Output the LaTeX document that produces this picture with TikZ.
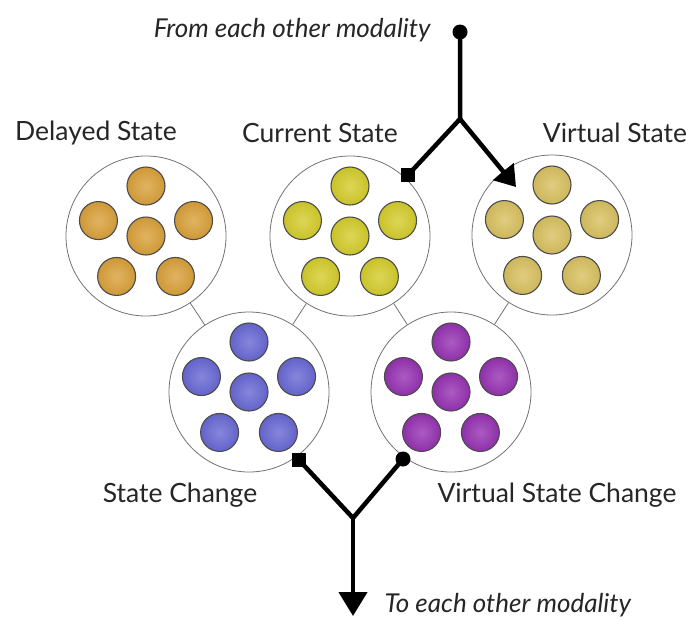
\documentclass[tikz,border=0pt]{standalone}
\usepackage{fontspec}
\setmainfont{Lato}
\usetikzlibrary{arrows.meta}
\definecolor{cdel}{HTML}{D9A03A}
\definecolor{ccur}{HTML}{D4CC2C}
\definecolor{cvir}{HTML}{D8C060}
\definecolor{cchg}{HTML}{6868D4}
\definecolor{cvch}{HTML}{9632B2}
\tikzset{
  big/.style={circle, draw=black!55, line width=0.8pt, minimum size=160pt, inner sep=0pt},
  ball/.style={circle, draw=black!70, line width=1.1pt, minimum size=38pt, inner sep=0pt,
    shading=radial, inner color=#1!80!white, outer color=#1!95!black},
  link/.style={draw=black!55, line width=0.8pt},
  lab/.style={font=\fontsize{26.5}{30}\selectfont, text=black!85},
  ilab/.style={font=\fontsize{26}{30}\selectfont\itshape, text=black!85},
  flow/.style={line width=4.5pt, line join=miter, black},
  dot/.style={circle, fill=black, minimum size=15pt, inner sep=0pt},
  sq/.style={rectangle, fill=black, minimum size=14pt, inner sep=0pt},
}
\newcommand{\cluster}[3]{%
  \node[big] (#1) at (#2) {};
  \node[ball=#3] (#1c) at (#1) {};
  \node[ball=#3] (#1a) at ([shift={(90:50pt)}]#1) {};
  \node[ball=#3] (#1b) at ([shift={(162:50pt)}]#1) {};
  \node[ball=#3] (#1d) at ([shift={(18:50pt)}]#1) {};
  \node[ball=#3] (#1e) at ([shift={(234:50pt)}]#1) {};
  \node[ball=#3] (#1f) at ([shift={(306:50pt)}]#1) {};
}
\begin{document}
\begin{tikzpicture}[x=1pt,y=-1pt]
\useasboundingbox[fill=white] (0,0) rectangle (694,619);
\cluster{del}{146,236}{cdel}
\cluster{cur}{350,236}{ccur}
\cluster{vir}{552,235}{cvir}
\cluster{chg}{249,392}{cchg}
\cluster{vch}{451,392}{cvch}
\draw[link] (del) -- (chg);
\draw[link] (cur) -- (chg);
\draw[link] (cur) -- (vch);
\draw[link] (vir) -- (vch);
\node[lab] (tdel) at (96,133) {Delayed State};
\node[lab] (tcur) at (320,133) {Current State};
\node[lab] (tvir) at (615,133) {Virtual State};
\node[lab] (tchg) at (180,495) {State Change};
\node[lab] (tvch) at (557,495) {Virtual State Change};
\node[ilab, anchor=east] (tfrom) at (434,30) {From each other modality};
\node[ilab, anchor=west] (tto) at (381,605) {To each other modality};
% top flow
\node[dot] (src) at (460,32) {};
\coordinate (j1) at (460,119);
\node[sq] (sqc) at (408,175) {};
\coordinate (tipv) at (516,187);
\draw[flow] (src.center) -- (j1) -- (sqc.center);
\draw[flow, -{Triangle[length=20pt,width=26pt]}] (j1) -- (tipv);
% bottom flow
\node[sq] (sqb) at (299,460) {};
\node[dot] (dotb) at (403,459) {};
\coordinate (j2) at (353,518);
\coordinate (tipb) at (353,616);
\draw[flow] (sqb.center) -- (j2) -- (dotb.center);
\draw[flow, -{Triangle[length=24pt,width=28pt]}] (j2) -- (tipb);
\end{tikzpicture}
\end{document}
